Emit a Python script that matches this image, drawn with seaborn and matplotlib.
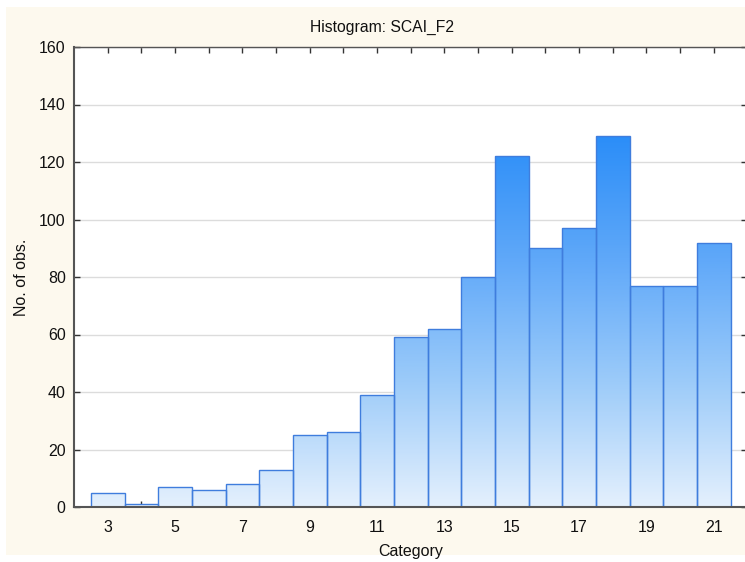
import numpy as np
import pandas as pd
import matplotlib
matplotlib.use("Agg")
import matplotlib.pyplot as plt
import seaborn as sns
from matplotlib.colors import LinearSegmentedColormap, Normalize
from matplotlib.patches import Rectangle

categories = list(range(3, 22))
counts = [5, 1, 7, 6, 8, 13, 25, 26, 39, 59, 62, 80, 122, 90, 97, 129, 77, 77, 92]
y_ticks = [0, 20, 40, 60, 80, 100, 120, 140, 160]
x_ticklabels = [3, 5, 7, 9, 11, 13, 15, 17, 19, 21]
title = "Histogram: SCAI_F2"
xlabel = "Category"
ylabel = "No. of obs."

sns.set_theme(style="white")
plt.rcParams["font.family"] = ["Liberation Sans", "DejaVu Sans"]

fig = plt.figure(figsize=(7.45, 5.62), dpi=100)
fig.patch.set_facecolor("white")
fig.patches.append(Rectangle((6 / 745, 7 / 562), 1.0, (555 - 7) / 562,
                             transform=fig.transFigure, facecolor="#fdf9ee",
                             edgecolor="none", zorder=-10))

ax = fig.add_axes([74 / 745, 55 / 562, (747.4 - 74) / 745, 460 / 562])
ax.set_zorder(1)
ax.set_facecolor("white")

df = pd.DataFrame({"Category": categories, "Count": counts})
sns.barplot(data=df, x="Category", y="Count", native_scale=True, width=1.0,
            color="#9ccaf8", edgecolor="#3f7ddd", linewidth=1.0, ax=ax,
            zorder=3)

cmap = LinearSegmentedColormap.from_list("g", ["#e4f0fd", "#9ccbf9", "#5fa8f9", "#2a8df8"])
grad = np.linspace(0, 160, 400).reshape(-1, 1)
norm = Normalize(vmin=0, vmax=130)
for p in list(ax.patches):
    p.set_facecolor("none")
    im = ax.imshow(grad, extent=[2, 22, 0, 160], origin="lower", aspect="auto",
                   cmap=cmap, norm=norm, zorder=2, interpolation="bilinear")
    im.set_clip_path(p)

ax.set_xlim(2, 22)
ax.set_ylim(0, 160)
ax.set_yticks(y_ticks)
ax.set_xticks(categories, minor=False)
ax.set_xticklabels([str(c) if c in x_ticklabels else "" for c in categories])
ax.yaxis.grid(True, color="#dcdcdc", linewidth=1.0, zorder=0)
ax.xaxis.grid(False)
ax.set_axisbelow(True)

ax.tick_params(axis="both", which="major", direction="in", length=4, width=1,
               color="#333333", labelsize=11.5, labelcolor="#111111",
               top=True, right=True, bottom=True, left=True)
ax.tick_params(axis="x", pad=9)
ax.tick_params(axis="y", pad=6)
for s in ["left", "bottom"]:
    ax.spines[s].set_color("#555555")
    ax.spines[s].set_linewidth(1.5)
for s in ["top", "right"]:
    ax.spines[s].set_color("#555555")
    ax.spines[s].set_linewidth(1.0)
for s in ax.spines.values():
    s.set_zorder(5)

ax.set_xlabel(xlabel, fontsize=11.5, color="#111111", labelpad=7)
ax.set_ylabel(ylabel, fontsize=11.5, color="#111111", labelpad=7)
fig.text(382 / 745, 1 - 27 / 562, title, fontsize=11.3, color="#111111",
         ha="center", va="center")

fig.savefig("out.png", dpi=100, facecolor=fig.get_facecolor())
